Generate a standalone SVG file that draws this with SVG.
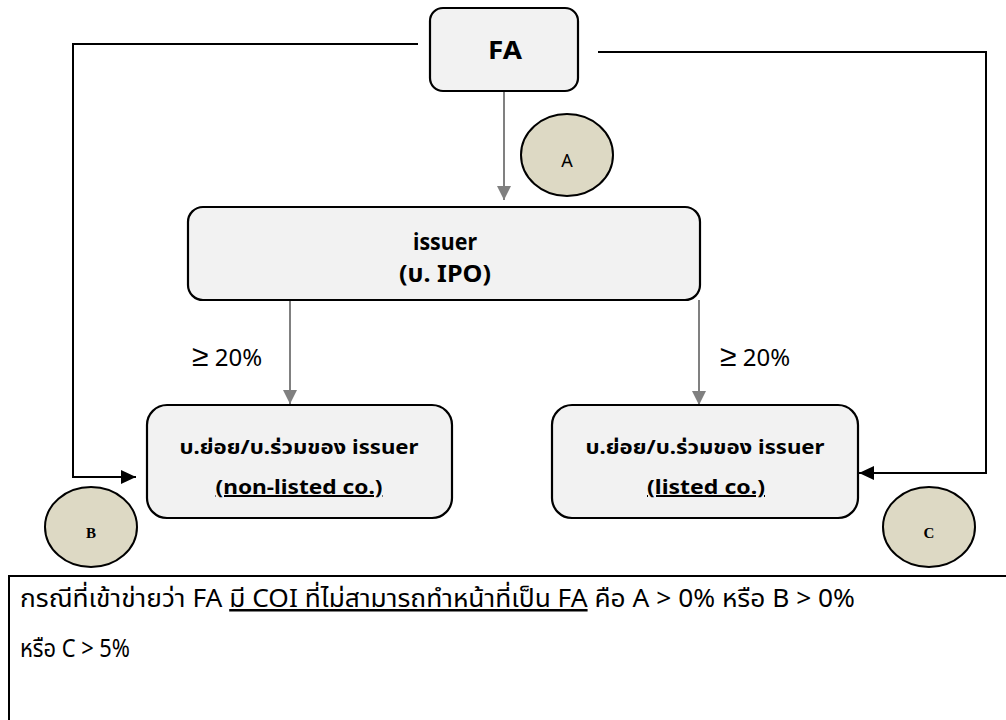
<svg xmlns="http://www.w3.org/2000/svg" width="1006" height="720" viewBox="0 0 1006 720">
<style>
.box{fill:#f2f2f2;stroke:#000;stroke-width:2.2}
.circ{fill:#ddd9c4;stroke:#000;stroke-width:2}
.t{font-family:"Noto Sans","Noto Sans Thai",Tahoma,sans-serif;fill:#000}
.b{font-weight:bold}
.gray{stroke:#808080;stroke-width:2;fill:none}
.blk{stroke:#000;stroke-width:2;fill:none}
.ser{font-family:"Liberation Serif",serif;font-weight:bold;font-size:15px}
</style>
<defs>
<marker id="ga" markerUnits="userSpaceOnUse" markerWidth="16" markerHeight="16" refX="14" refY="7" orient="auto"><path d="M0,0 L14,7 L0,14 Z" fill="#808080"/></marker>
<marker id="ba" markerUnits="userSpaceOnUse" markerWidth="18" markerHeight="16" refX="15" refY="7" orient="auto"><path d="M0,0 L15,7 L0,14 Z" fill="#000"/></marker>
</defs>
<rect width="1006" height="720" fill="#fff"/>
<g id="connectors">
<path class="blk" d="M418,44 H73 V477 H136" marker-end="url(#ba)"/>
<path class="blk" d="M598,52 H986 V473 H859" marker-end="url(#ba)"/>
<path class="gray" d="M504,92 V200" marker-end="url(#ga)"/>
<path class="gray" d="M290,300 V404" marker-end="url(#ga)"/>
<path class="gray" d="M699,300 V405" marker-end="url(#ga)"/>
<text class="t" x="192" y="366" font-size="24"><tspan font-size="30">≥</tspan> 20%</text>
<text class="t" x="720" y="366" font-size="24"><tspan font-size="30">≥</tspan> 20%</text>
</g>
<g id="fa">
<rect class="box" x="430" y="8" width="148" height="83" rx="13"/>
<text class="t b" x="505" y="59" font-size="25" text-anchor="middle" textLength="34" lengthAdjust="spacingAndGlyphs">FA</text>
</g>
<g id="a">
<ellipse class="circ" cx="567" cy="155" rx="46" ry="41"/>
<text class="t" x="567" y="167" font-size="18" text-anchor="middle">A</text>
</g>
<g id="issuer">
<rect class="box" x="188" y="207" width="512" height="93" rx="15"/>
<text class="t b" x="445" y="250" font-size="24" text-anchor="middle" textLength="64" lengthAdjust="spacingAndGlyphs">issuer</text>
<text class="t b" x="445" y="282" font-size="24" text-anchor="middle" textLength="92" lengthAdjust="spacingAndGlyphs">(บ. IPO)</text>
</g>
<g id="nonlisted">
<rect class="box" x="147" y="405" width="305" height="113" rx="20"/>
<text class="t b" x="299" y="454" font-size="20" text-anchor="middle" textLength="239" lengthAdjust="spacingAndGlyphs">บ.ย่อย/บ.ร่วมของ issuer</text>
<text class="t b" x="299" y="494" font-size="20" text-anchor="middle" text-decoration="underline" textLength="167" lengthAdjust="spacingAndGlyphs">(non-listed co.)</text>
</g>
<g id="listed">
<rect class="box" x="552" y="405" width="306" height="113" rx="20"/>
<text class="t b" x="705" y="454" font-size="20" text-anchor="middle" textLength="239" lengthAdjust="spacingAndGlyphs">บ.ย่อย/บ.ร่วมของ issuer</text>
<text class="t b" x="706" y="494" font-size="20" text-anchor="middle" text-decoration="underline" textLength="118" lengthAdjust="spacingAndGlyphs">(listed co.)</text>
</g>
<g id="b">
<ellipse class="circ" cx="91" cy="527" rx="46" ry="40"/>
<text class="ser" x="91" y="538" text-anchor="middle">B</text>
</g>
<g id="c">
<ellipse class="circ" cx="929" cy="527" rx="46" ry="40"/>
<text class="ser" x="929" y="538" text-anchor="middle">C</text>
</g>
<g id="note">
<rect x="9" y="576" width="1010" height="160" fill="#fff" stroke="#000" stroke-width="2"/>
<text class="t" x="20" y="607" font-size="25" textLength="835" lengthAdjust="spacingAndGlyphs">กรณีที่เข้าข่ายว่า FA <tspan text-decoration="underline">มี COI ที่ไม่สามารถทำหน้าที่เป็น FA</tspan> คือ A &gt; 0% หรือ B &gt; 0%</text>
<text class="t" x="20" y="657" font-size="25" textLength="110" lengthAdjust="spacingAndGlyphs">หรือ C &gt; 5%</text>
</g>
</svg>
